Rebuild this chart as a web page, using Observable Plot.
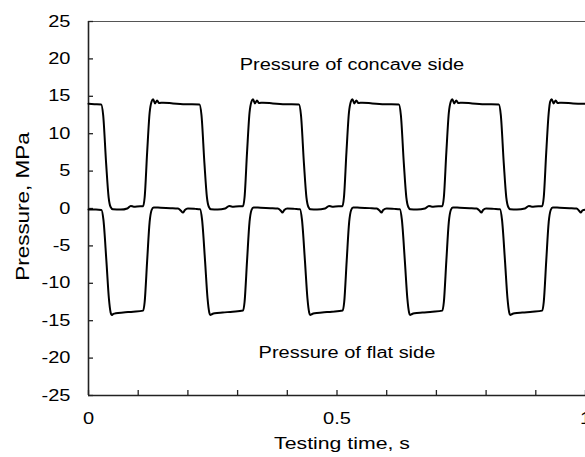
<!DOCTYPE html>
<html>
<head>
<meta charset="utf-8">
<script src="https://cdn.jsdelivr.net/npm/d3@7"></script>
<script src="https://cdn.jsdelivr.net/npm/@observablehq/plot@0.6"></script>
<style>
  html, body { margin: 0; padding: 0; background: #fff; overflow: hidden; width: 585px; height: 457px; }
  #chart svg { overflow: visible; display: block; }
</style>
</head>
<body>
<div id="chart"></div>
<script>
// ---- data ----
const concaveT = [0, 0.012, 0.0255, 0.0295, 0.0355, 0.0405, 0.0445, 0.049, 0.065, 0.078, 0.085, 0.091, 0.104, 0.110,
  0.113, 0.118, 0.123, 0.127, 0.130, 0.134, 0.138, 0.142, 0.150, 0.170, 0.195, 0.2233,
  0.2273, 0.2333, 0.2383, 0.2423, 0.2463, 0.260, 0.275, 0.283, 0.289, 0.303, 0.311,
  0.314, 0.319, 0.324, 0.328, 0.331, 0.335, 0.339, 0.343, 0.351, 0.371, 0.396, 0.4235,
  0.4275, 0.4335, 0.4385, 0.4425, 0.4465, 0.460, 0.476, 0.484, 0.490, 0.503, 0.511,
  0.514, 0.519, 0.524, 0.528, 0.531, 0.535, 0.539, 0.543, 0.551, 0.571, 0.596, 0.6245,
  0.6285, 0.6345, 0.6395, 0.6435, 0.6475, 0.661, 0.677, 0.685, 0.691, 0.704, 0.712,
  0.715, 0.720, 0.725, 0.729, 0.732, 0.736, 0.740, 0.744, 0.752, 0.772, 0.797, 0.8256,
  0.8296, 0.8356, 0.8406, 0.8446, 0.8486, 0.862, 0.878, 0.886, 0.892, 0.905, 0.913,
  0.916, 0.921, 0.926, 0.929, 0.932, 0.936, 0.940, 0.944, 0.952, 0.975, 1.0];
const concaveP = [14.0, 13.95, 13.9, 12.5, 6, 1.5, 0.2, -0.1, -0.15, 0.0, 0.35, 0.25, 0.3, 0.3,
  1.5, 7.5, 12.8, 14.3, 14.6, 14.05, 14.45, 14.1, 14.15, 14.05, 13.95, 13.9,
  12.5, 6, 1.5, 0.2, -0.1, -0.15, 0.0, 0.35, 0.25, 0.3, 0.3,
  1.5, 7.5, 12.8, 14.3, 14.6, 14.05, 14.45, 14.1, 14.15, 14.05, 13.95, 13.9,
  12.5, 6, 1.5, 0.2, -0.1, -0.15, 0.0, 0.35, 0.25, 0.3, 0.3,
  1.5, 7.5, 12.8, 14.3, 14.6, 14.05, 14.45, 14.1, 14.15, 14.05, 13.95, 13.9,
  12.5, 6, 1.5, 0.2, -0.1, -0.15, 0.0, 0.35, 0.25, 0.3, 0.3,
  1.5, 7.5, 12.8, 14.3, 14.6, 14.05, 14.45, 14.1, 14.15, 14.05, 13.95, 13.9,
  12.5, 6, 1.5, 0.2, -0.1, -0.15, 0.0, 0.35, 0.25, 0.3, 0.3,
  1.5, 7.5, 12.8, 14.3, 14.6, 14.05, 14.45, 14.1, 14.15, 14.05, 14.0];

const flatT = [0, 0.015, 0.026, 0.030, 0.036, 0.041, 0.0445, 0.0465, 0.050, 0.055, 0.070, 0.090, 0.110,
  0.113, 0.118, 0.123, 0.127, 0.131, 0.145, 0.165, 0.180, 0.186, 0.190, 0.194, 0.200, 0.215, 0.2245,
  0.2285, 0.2345, 0.2395, 0.243, 0.245, 0.249, 0.254, 0.270, 0.290, 0.311,
  0.314, 0.319, 0.324, 0.328, 0.332, 0.346, 0.366, 0.381, 0.387, 0.390, 0.394, 0.400, 0.415, 0.4255,
  0.4295, 0.4355, 0.4405, 0.444, 0.446, 0.450, 0.455, 0.470, 0.490, 0.5115,
  0.5145, 0.5195, 0.5245, 0.5285, 0.5325, 0.546, 0.566, 0.580, 0.586, 0.5895, 0.593, 0.600, 0.615, 0.6265,
  0.6305, 0.6365, 0.6415, 0.645, 0.647, 0.651, 0.656, 0.672, 0.692, 0.712,
  0.715, 0.720, 0.725, 0.729, 0.733, 0.747, 0.767, 0.781, 0.787, 0.7905, 0.794, 0.800, 0.816, 0.828,
  0.832, 0.838, 0.843, 0.8465, 0.8485, 0.8525, 0.8575, 0.873, 0.893, 0.913,
  0.916, 0.921, 0.926, 0.930, 0.934, 0.948, 0.968, 0.982, 0.987, 0.9905, 0.994, 1.0];
const flatP = [-0.15, -0.15, -0.2, -1.5, -7, -12, -13.9, -14.25, -14.1, -14.0, -13.9, -13.8, -13.65,
  -12.5, -7, -1.8, -0.2, 0.15, 0.1, 0.05, 0.0, -0.3, -0.55, -0.2, 0.0, -0.05, -0.1,
  -1.5, -7, -12, -13.9, -14.25, -14.1, -14.0, -13.9, -13.8, -13.65,
  -12.5, -7, -1.8, -0.2, 0.15, 0.1, 0.05, 0.0, -0.3, -0.55, -0.2, 0.0, -0.05, -0.1,
  -1.5, -7, -12, -13.9, -14.25, -14.1, -14.0, -13.9, -13.8, -13.65,
  -12.5, -7, -1.8, -0.2, 0.15, 0.1, 0.05, 0.0, -0.3, -0.55, -0.2, 0.0, -0.05, -0.1,
  -1.5, -7, -12, -13.9, -14.25, -14.1, -14.0, -13.9, -13.8, -13.65,
  -12.5, -7, -1.8, -0.2, 0.15, 0.1, 0.05, 0.0, -0.3, -0.55, -0.2, 0.0, -0.05, -0.1,
  -1.5, -7, -12, -13.9, -14.25, -14.1, -14.0, -13.9, -13.8, -13.65,
  -12.5, -7, -1.8, -0.2, 0.15, 0.1, 0.05, 0.0, -0.3, -0.55, -0.25, -0.15];

const yTicks = [-25, -20, -15, -10, -5, 0, 5, 10, 15, 20, 25];
const xMinorTicks = [0, 0.1, 0.2, 0.3, 0.4, 0.5, 0.6, 0.7, 0.8, 0.9, 1];
const xTickLabels = [0, 0.5, 1];
const noteText = ["Pressure of concave side", "Pressure of flat side"];
const noteT = [0.53, 0.52];
const noteP = [19.25, -19.25];
const xTitle = "Testing time, s";
const yTitle = "Pressure, MPa";

// ---- build ----
const concave = concaveT.map((t, i) => ({t, p: concaveP[i]}));
const flat = flatT.map((t, i) => ({t, p: flatP[i]}));
const notes = noteText.map((s, i) => ({s, t: noteT[i], p: noteP[i]}));

const FONT = "'Liberation Sans', Arial, Helvetica, sans-serif";
const chart = Plot.plot({
  width: 585,
  height: 457,
  marginLeft: 88,
  marginRight: 0,
  marginTop: 21,
  marginBottom: 62,
  x: {domain: [0, 1]},
  y: {domain: [-25, 25]},
  style: {fontFamily: FONT, fontSize: "16px", color: "#000", background: "transparent", overflow: "visible"},
  marks: [
    Plot.ruleY([25], {stroke: "#555", strokeWidth: 1.2}),
    Plot.ruleX([0], {stroke: "#222", strokeWidth: 1.6}),
    Plot.ruleY([-25], {stroke: "#222", strokeWidth: 1.6}),
    Plot.axisY(yTicks, {anchor: "left", tickSize: -5, tickPadding: 23, tickFormat: d => String(d), label: null, stroke: "#222", strokeWidth: 1.3, fontSize: 16}),
    Plot.axisX(xMinorTicks, {anchor: "bottom", tickSize: -5, tickPadding: 0, tickFormat: () => "", label: null, stroke: "#222", strokeWidth: 1.3}),
    Plot.axisX(xTickLabels, {anchor: "bottom", tickSize: 0, tickPadding: 17, tickFormat: d => String(d), label: null, fontSize: 16}),
    Plot.line(concave, {x: "t", y: "p", stroke: "#000", strokeWidth: 2, curve: "monotone-x", strokeLinejoin: "round"}),
    Plot.line(flat, {x: "t", y: "p", stroke: "#000", strokeWidth: 2, curve: "monotone-x", strokeLinejoin: "round"}),
    Plot.text(notes, {x: "t", y: "p", text: "s", fontSize: 16, fill: "#000"}),
    Plot.text([xTitle], {frameAnchor: "bottom", textAnchor: "middle", lineAnchor: "middle", dx: 5, dy: 48, fontSize: 17, fill: "#000"}),
    Plot.text([yTitle], {frameAnchor: "left", textAnchor: "middle", lineAnchor: "middle", rotate: -90, dx: -65, dy: -2, fontSize: 18, fill: "#000"})
  ]
});

// the reference's lettering is wide: stretch each text along its baseline
chart.querySelectorAll("text").forEach(t => {
  const tr = t.getAttribute("transform");
  t.setAttribute("transform", (tr ? tr + " " : "") + "scale(1.25,1)");
});

document.getElementById("chart").appendChild(chart);
</script>
</body>
</html>
